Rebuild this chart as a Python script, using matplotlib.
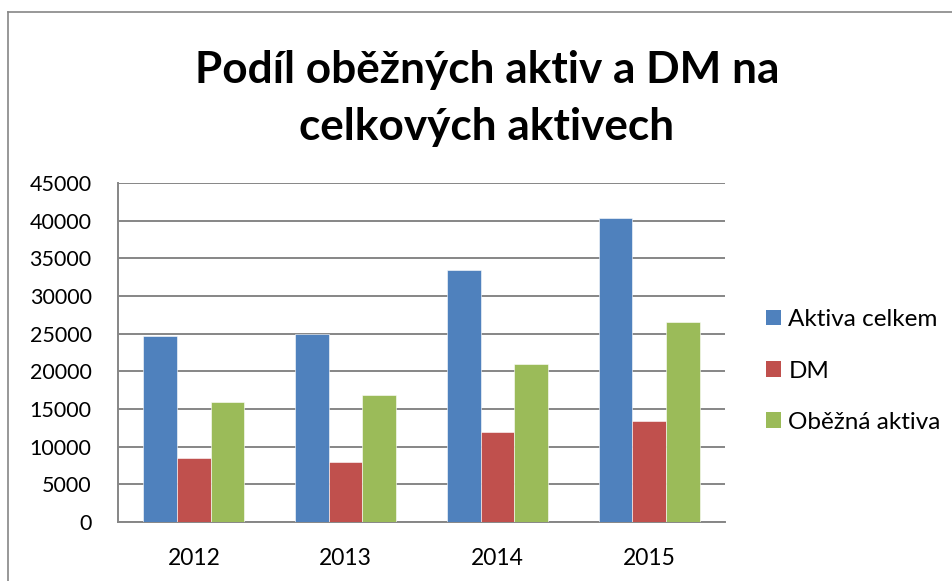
import numpy as np
import matplotlib
matplotlib.use('Agg')
import matplotlib.pyplot as plt
from matplotlib.patches import Patch

plt.rcParams['font.family'] = ['Lato', 'DejaVu Sans']

# data
years = ['2012', '2013', '2014', '2015']
aktiva_celkem = [24750, 24980, 33450, 40330]
dm = [8560, 7900, 11980, 13400]
obezna_aktiva = [15880, 16820, 20940, 26490]
series_names = ['Aktiva celkem', 'DM', 'Oběžná aktiva']
colors = ['#4F81BD', '#C0504D', '#9BBB59']
yticks = list(range(0, 45001, 5000))

W, H = 953, 581
fig = plt.figure(figsize=(W / 100, H / 100), dpi=100)

# plot area in pixels: x 118..725, y 183..522
ax = fig.add_axes([118 / W, 1 - 522 / H, (725 - 118) / W, (522 - 183) / H])

x = np.arange(len(years))
bw = 1 / 4.5
for i, (vals, c) in enumerate(zip([aktiva_celkem, dm, obezna_aktiva], colors)):
    ax.bar(x + (i - 1) * bw, vals, width=bw, color=c, zorder=3,
           edgecolor='white', linewidth=0.4)

ax.set_xlim(-0.5, len(years) - 0.5)
ax.set_ylim(0, 45000)
ax.set_yticks(yticks)
ax.set_yticklabels([str(v) for v in yticks], fontsize=15.5)
ax.set_xticks(x)
ax.set_xticklabels(years, fontsize=16.5)
ax.tick_params(axis='both', length=0)
ax.tick_params(axis='y', pad=19)
ax.tick_params(axis='x', pad=19)
ax.grid(axis='y', color='#868686', linewidth=1.4, zorder=0)
for s in ['top', 'right']:
    ax.spines[s].set_visible(False)
for s in ['left', 'bottom']:
    ax.spines[s].set_color('#868686')
    ax.spines[s].set_linewidth(1.4)

# title
fig.text(487 / W, 1 - 70 / H, 'Podíl oběžných aktiv a DM na', ha='center', va='center',
         fontsize=31.8, fontweight='bold')
fig.text(487 / W, 1 - 127 / H, 'celkových aktivech', ha='center', va='center',
         fontsize=31.8, fontweight='bold')

# legend
handles = [Patch(facecolor=c, edgecolor='none') for c in colors]
fig.legend(handles, series_names, loc='center left', bbox_to_anchor=(766 / W, 1 - 371 / H),
           frameon=False, fontsize=17.5, handlelength=0.62, handleheight=0.62,
           handletextpad=0.3, labelspacing=1.25, borderaxespad=0, borderpad=0)

# outer chart frame
fig.add_artist(plt.Line2D([8 / W, 8 / W], [0, 1 - 12 / H], color='#868686', linewidth=1.2))
fig.add_artist(plt.Line2D([8 / W, 1], [1 - 12 / H, 1 - 12 / H], color='#868686', linewidth=1.2))

fig.savefig('out.png', dpi=100)
